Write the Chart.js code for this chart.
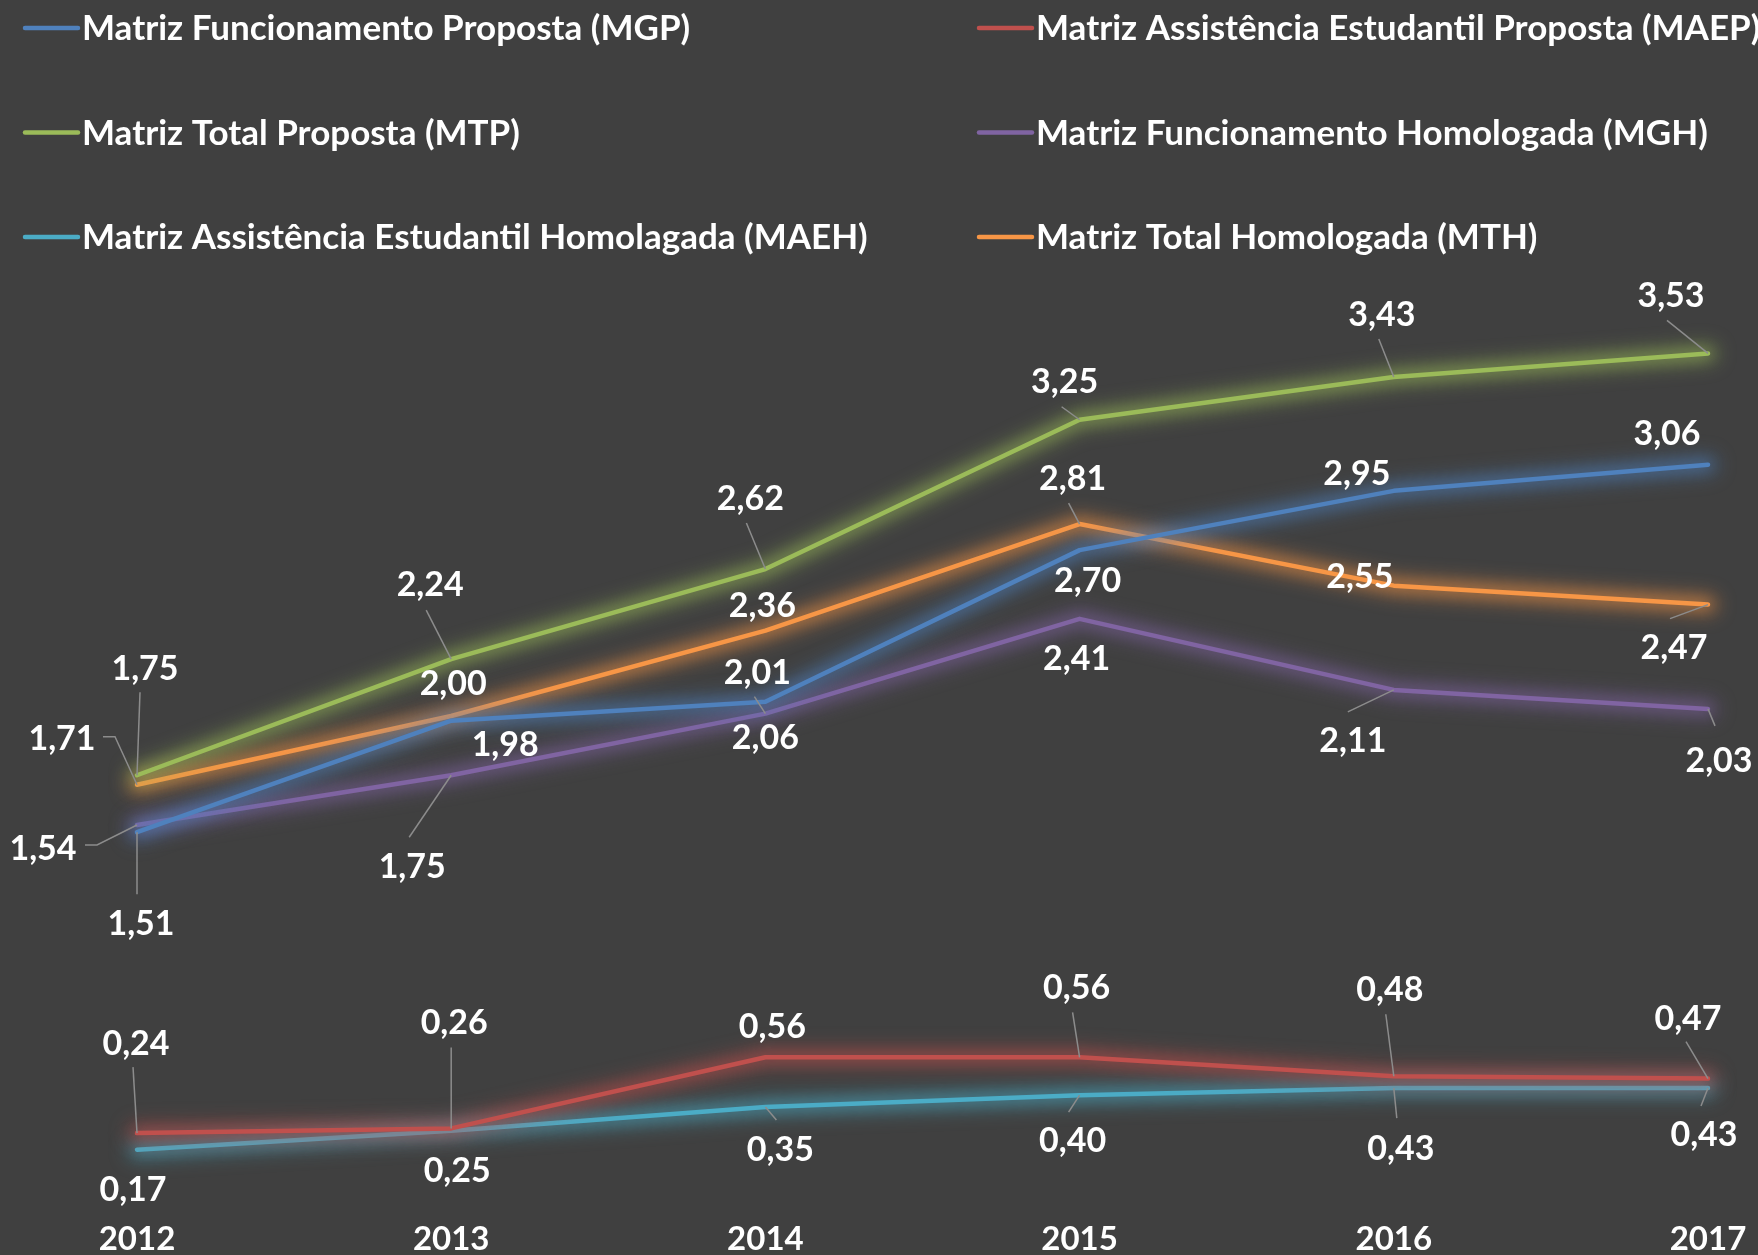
<!DOCTYPE html>
<html>
<head>
<meta charset="utf-8">
<script src="https://cdn.jsdelivr.net/npm/chart.js@4.4.1/dist/chart.umd.min.js"></script>
<style>
  html, body { margin: 0; padding: 0; background: #404040; }
  #wrap { width: 1758px; height: 1255px; position: relative; }
  canvas { display: block; }
</style>
</head>
<body>
<div id="wrap"><canvas id="c" width="1758" height="1255"></canvas></div>
<script>
// ---------- DATA ----------
const years = ['2012', '2013', '2014', '2015', '2016', '2017'];
const seriesNames = [
  'Matriz Funcionamento Proposta (MGP)',
  'Matriz Assistência Estudantil Proposta (MAEP)',
  'Matriz Total Proposta (MTP)',
  'Matriz Funcionamento Homologada (MGH)',
  'Matriz Assistência Estudantil Homolagada (MAEH)',
  'Matriz Total Homologada (MTH)'
];
const mgp  = [1.51, 1.98, 2.06, 2.70, 2.95, 3.06];
const maep = [0.24, 0.26, 0.56, 0.56, 0.48, 0.47];
const mtp  = [1.75, 2.24, 2.62, 3.25, 3.43, 3.53];
const mgh  = [1.54, 1.75, 2.01, 2.41, 2.11, 2.03];
const maeh = [0.17, 0.25, 0.35, 0.40, 0.43, 0.43];
const mth  = [1.71, 2.00, 2.36, 2.81, 2.55, 2.47];

// ---------- STYLE / LAYOUT ----------
const colors = ['#4F81BD', '#C0504D', '#9BBB59', '#8064A2', '#4BACC6', '#F79646'];
const FONT = 'Lato, "Open Sans", "DejaVu Sans", sans-serif';

// label centre offsets relative to the data point (px)
const labelOffsets = [
  [[4, 91], [54, 23], [0, 35], [8, 30], [-37, -18], [-41, -32]],          // MGP
  [[-1, -90], [3, -106], [7, -31], [-3, -70], [-4, -87], [-20, -61]],     // MAEP
  [[8, -107], [-21, -75], [-15, -71], [-15, -39], [-12, -63], [-37, -58]],// MTP
  [[-94, 23], [-39, 91], [-8, -42], [-3, 39], [-41, 50], [11, 51]],       // MGH
  [[-4, 39], [6, 39], [15, 42], [-7, 45], [7, 60], [-4, 46]],             // MAEH
  [[-75, -47], [2, -33], [-3, -26], [-7, -46], [-34, -10], [-34, 42]]     // MTH
];
// leader line paths (relative to data point), ending at the point
const leaderPaths = [
  [[[0, 62]], null, null, null, null, null],
  [[[-4, -66]], [[0, -81]], null, [[-7, -45]], [[-8, -62]], [[-22, -37]]],
  [[[3, -83]], [[-25, -49]], [[-19, -46]], [[-18, -13]], [[-15, -38]], [[-41, -33]]],
  [[[-52, 20], [-40, 20]], [[-42, 62]], [[-11, -17]], null, [[-46, 22]], [[7, 17]]],
  [null, null, [[11, 13]], [[-11, 17]], [[3, 30]], [[-7, 18]]],
  [[[-34, -48], [-22, -48]], null, null, [[-11, -21]], null, [[-38, 14]]]
];

function hexToRgba(hex, a) {
  const n = parseInt(hex.slice(1), 16);
  return `rgba(${(n >> 16) & 255},${(n >> 8) & 255},${n & 255},${a})`;
}
function fmt(v) { return v.toFixed(2).replace('.', ','); }

const seriesData = [mgp, maep, mtp, mgh, maeh, mth];

const datasets = seriesData.map((d, i) => ({
  label: seriesNames[i],
  data: d,
  borderColor: colors[i],
  backgroundColor: colors[i],
  borderWidth: 4.5,
  borderCapStyle: 'round',
  borderJoinStyle: 'round',
  pointRadius: 0,
  pointHoverRadius: 0,
  tension: 0,
  fill: false,
  clip: false
}));

const bgPlugin = {
  id: 'bg',
  beforeDraw(chart) {
    const ctx = chart.ctx;
    ctx.save();
    ctx.fillStyle = '#404040';
    ctx.fillRect(0, 0, chart.width, chart.height);
    ctx.restore();
  }
};

// soft glow around each line, drawn from the line element's own points
const glowPlugin = {
  id: 'glow',
  beforeDatasetDraw(chart, args) {
    const ctx = chart.ctx;
    const pts = args.meta.data;
    ctx.save();
    ctx.filter = 'blur(9px)';
    ctx.strokeStyle = hexToRgba(colors[args.index], 0.38);
    ctx.lineWidth = 22;
    ctx.lineCap = 'round';
    ctx.lineJoin = 'round';
    ctx.beginPath();
    pts.forEach((p, k) => (k ? ctx.lineTo(p.x, p.y) : ctx.moveTo(p.x, p.y)));
    ctx.stroke();
    ctx.restore();
    ctx.save();
    ctx.shadowColor = hexToRgba(colors[args.index], 0.8);
    ctx.shadowBlur = 14;
  },
  afterDatasetDraw(chart) {
    chart.ctx.restore();
  }
};

const labelPlugin = {
  id: 'valueLabels',
  afterDatasetsDraw(chart) {
    const ctx = chart.ctx;
    ctx.save();
    chart.data.datasets.forEach((ds, di) => {
      const meta = chart.getDatasetMeta(di);
      meta.data.forEach((pt, i) => {
        const lead = leaderPaths[di][i];
        if (lead) {
          ctx.beginPath();
          ctx.strokeStyle = '#8c8c8c';
          ctx.lineWidth = 1.5;
          ctx.moveTo(pt.x + lead[0][0], pt.y + lead[0][1]);
          for (let k = 1; k < lead.length; k++) ctx.lineTo(pt.x + lead[k][0], pt.y + lead[k][1]);
          ctx.lineTo(pt.x, pt.y);
          ctx.stroke();
        }
      });
    });
    ctx.fillStyle = '#ffffff';
    ctx.font = 'bold 34px ' + FONT;
    ctx.textAlign = 'center';
    ctx.textBaseline = 'alphabetic';
    chart.data.datasets.forEach((ds, di) => {
      const meta = chart.getDatasetMeta(di);
      meta.data.forEach((pt, i) => {
        const [dx, dy] = labelOffsets[di][i];
        ctx.fillText(fmt(ds.data[i]), pt.x + dx, pt.y + dy + 12);
      });
    });
    ctx.restore();
  }
};

const legendPlugin = {
  id: 'customLegend',
  afterDraw(chart) {
    const ctx = chart.ctx;
    ctx.save();
    ctx.font = 'bold 35px ' + FONT;
    ctx.textAlign = 'left';
    ctx.textBaseline = 'alphabetic';
    chart.data.datasets.forEach((ds, i) => {
      const col = i % 2, row = Math.floor(i / 2);
      const x0 = col === 0 ? 25 : 979;
      const y = 28 + row * 104.5;
      ctx.beginPath();
      ctx.strokeStyle = ds.borderColor;
      ctx.lineWidth = 4.5;
      ctx.lineCap = 'round';
      ctx.moveTo(x0, y);
      ctx.lineTo(x0 + 53, y);
      ctx.stroke();
      ctx.fillStyle = '#ffffff';
      ctx.fillText(ds.label, x0 + 57, y + 12);
    });
    ctx.restore();
  }
};

new Chart(document.getElementById('c'), {
  type: 'line',
  data: { labels: years, datasets },
  options: {
    responsive: false,
    animation: false,
    devicePixelRatio: 1,
    layout: { padding: { top: 242, left: 137, right: 50, bottom: -33 } },
    plugins: { legend: { display: false }, tooltip: { enabled: false } },
    scales: {
      x: {
        offset: false,
        grid: { display: false, drawTicks: false },
        border: { display: false },
        ticks: {
          color: '#ffffff',
          font: { family: FONT, size: 33, weight: 'bold', lineHeight: '98px' },
          padding: 0,
          maxRotation: 0,
          autoSkip: false
        }
      },
      y: {
        display: false,
        min: 0,
        max: 4
      }
    }
  },
  plugins: [bgPlugin, glowPlugin, labelPlugin, legendPlugin]
});
</script>
</body>
</html>
